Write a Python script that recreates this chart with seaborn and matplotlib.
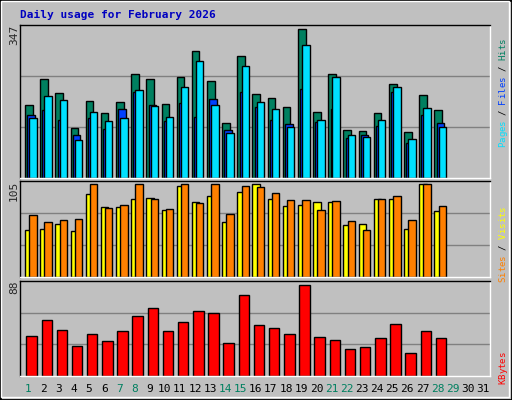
import numpy as np
import pandas as pd
import seaborn as sns
import matplotlib
matplotlib.use("Agg")
import matplotlib.pyplot as plt
from matplotlib.patches import Rectangle

# datos (28 dias con datos)
days = np.arange(1, 29)
hits = [166, 225, 193, 113, 175, 148, 173, 237, 225, 168, 230, 287, 221, 125, 276,
        191, 182, 161, 337, 150, 237, 109, 107, 148, 214, 104, 189, 155]
files = [143, 155, 132, 97, 135, 112, 157, 194, 166, 130, 171, 139, 180, 109, 194,
         161, 132, 123, 202, 127, 157, 91, 97, 118, 196, 79, 143, 125]
pages = [136, 187, 177, 86, 150, 129, 136, 200, 164, 139, 207, 266, 166, 102, 253,
         173, 157, 116, 301, 132, 230, 97, 93, 132, 207, 88, 159, 116]
visits = [53.6, 54.8, 60.4, 52.5, 94.4, 79.7, 79.7, 88.8, 89.9, 76.3, 103.5, 85.4, 92.2, 62.7,
          96.7, 105, 88.8, 80.8, 82, 85.4, 85.4, 59.3, 60.4, 88.8, 88.8, 54.8, 105, 75.2]
sites = [70.6, 62.7, 65, 66.1, 105, 78.6, 82, 105, 88.8, 77.4, 105, 84.2, 105, 71.8,
         103.5, 102.4, 95.6, 87.6, 87.6, 76.3, 86.5, 63.8, 53.6, 88.8, 92.2, 65, 105, 80.8]
kbytes = [38.9, 54.3, 44.6, 29.2, 40.8, 34, 43.7, 58.1, 65.8, 43.7, 52.3, 62.9, 61, 32.1,
          78.4, 49.5, 46.6, 40.8, 88, 37.9, 35, 26.3, 28.3, 36.9, 50.4, 22.5, 43.7, 36.9]
weekend = [1, 7, 8, 14, 15, 21, 22, 28, 29]
max_labels = ["347", "105", "88"]

C_HITS, C_FILES, C_PAGES = "#008060", "#0040FF", "#00E0FF"
C_VISITS, C_SITES, C_KB = "#FFFF00", "#FF8000", "#FF0000"
BG = "#C0C0C0"

sns.set_style("white")
plt.rcParams["font.family"] = ["DejaVu Sans Mono"]

W, H = 512, 400
fig = plt.figure(figsize=(W / 100, H / 100), dpi=100, facecolor=BG)


def px_axes(x0, y0, x1, y1):
    return fig.add_axes([x0 / W, 1 - y1 / H, (x1 - x0) / W, (y1 - y0) / H])


def bars(ax, x, y, color, width):
    sns.barplot(x=x, y=y, ax=ax, native_scale=True, color=color, width=width,
                edgecolor="black", linewidth=1, saturation=1, errorbar=None)


def setup(ax, top):
    ax.set_facecolor(BG)
    ax.set_xlim(0, 31)
    ax.set_ylim(0, top)
    for v in (top / 3, 2 * top / 3):
        ax.axhline(v, color="#808080", lw=1, zorder=0)
    ax.set_xticks([])
    ax.set_yticks([])
    ax.set_xlabel("")
    ax.set_ylabel("")
    for s in ax.spines.values():
        s.set_color("black")
        s.set_linewidth(1)
    ax.spines["bottom"].set_color("white")
    ax.spines["right"].set_color("white")


ax1 = px_axes(20, 25, 490, 178)
ax2 = px_axes(20, 181, 490, 277)
ax3 = px_axes(20, 281, 490, 376)

bars(ax1, days - 0.415, hits, C_HITS, 0.5)
bars(ax1, days - 0.27, files, C_FILES, 0.5)
bars(ax1, days - 0.145, pages, C_PAGES, 0.49)
setup(ax1, 347 * 152 / 152)

bars(ax2, days - 0.42, visits, C_VISITS, 0.49)
bars(ax2, days - 0.145, sites, C_SITES, 0.49)
setup(ax2, 105 * 288 / 278)

bars(ax3, days - 0.235, kbytes, C_KB, 0.69)
setup(ax3, 88 * 285 / 274)

# etiquetas de maximo
for ax, lab in zip((ax1, ax2, ax3), max_labels):
    bb = ax.get_position()
    fig.text(14 / W, bb.y1, lab, rotation=90, ha="center", va="top", fontsize=8)

# dias del mes
for d in range(1, 32):
    xp = 20 + (d - 0.45) * 470 / 31
    fig.text(xp / W, 1 - 389 / H, str(d), ha="center", va="center", fontsize=8,
             color="#008060" if d in weekend else "black")


def side_label(parts, y_bottom):
    # texto vertical multicolor, de abajo hacia arriba
    step = 5.45
    y = y_bottom
    for txt, col in parts:
        for ch in txt:
            fig.text(503 / W, 1 - y / H, ch, rotation=90, ha="center", va="top",
                     fontsize=6.5, color=col)
            y -= step


side_label([("Pages", C_PAGES), (" / ", "black"), ("Files", C_FILES),
            (" / ", "black"), ("Hits", C_HITS)], 142)
side_label([("Sites", C_SITES), (" / ", "black"), ("Visits", C_VISITS)], 277)
side_label([("KBytes", C_KB)], 379)

fig.text(20 / W, 1 - 15 / H, "Daily usage for February 2026", color="#0000C0",
         fontsize=8, fontweight="bold", va="center", ha="left")

# marco exterior
fig.patches.append(Rectangle((0, 0), 1, 1, transform=fig.transFigure, fill=False,
                             edgecolor="black", lw=2))
fig.patches.append(Rectangle((1 / W, 3 / H), 1 - 4 / W, 1 - 4 / H, transform=fig.transFigure,
                             fill=False, edgecolor="white", lw=1))

fig.savefig("out.png", dpi=100, facecolor=BG)
